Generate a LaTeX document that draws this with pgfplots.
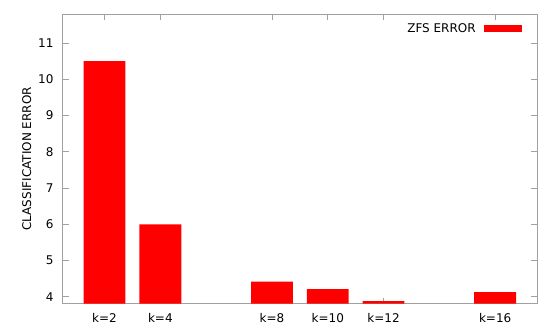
\documentclass[border=0pt]{standalone}
\usepackage{fontspec}
\setmainfont{DejaVu Sans}
\usepackage{pgfplots}
\pgfplotsset{compat=1.18}
\definecolor{axgray}{RGB}{160,160,160}
\begin{document}
\fontsize{12bp}{14bp}\selectfont
\begin{tikzpicture}
\begin{axis}[
  at={(0,0)}, anchor=south west,
  scale only axis, width=474.3bp, height=289.7bp,
  xmin=0.5, xmax=17.5, ymin=3.81, ymax=11.8,
  xtick={2,4,8,10,12,16},
  xticklabels={k=2,k=4,k=8,k=10,k=12,k=16},
  ytick={4,5,6,7,8,9,10,11},
  /pgf/number format/assume math mode=true,
  axis line style={axgray, line width=0.8bp},
  every tick/.style={axgray, line width=0.8bp},
  major tick length=6bp,
  tick align=inside,
  xticklabel style={yshift=-5bp},
  yticklabel style={xshift=-5bp},
  ylabel={CLASSIFICATION ERROR},
  ylabel style={at={(axis description cs:0,0.5)}, yshift=36bp, anchor=center},
  legend plot pos=right,
  legend style={draw=none, fill=none, at={(rel axis cs:1,1)}, anchor=north east,
    xshift=-14.7bp, yshift=-9.3bp, inner sep=0pt, outer sep=0pt,
    nodes={inner sep=0pt}, column sep=8.6bp},
]
\addplot[ybar, bar width=1.5, bar shift=0pt, fill=red, draw=none,
  legend image code/.code={\fill[red] (0bp,-3.7bp) rectangle (38bp,3.7bp);}]
  coordinates {(2,10.5) (4,6.0) (8,4.42) (10,4.21) (12,3.88) (16,4.13)};
\addlegendentry{ZFS ERROR}
\end{axis}
\pgfresetboundingbox
\useasboundingbox (-62.7bp,-32.3bp) rectangle (487.3bp,303.7bp);
\end{tikzpicture}
\end{document}
